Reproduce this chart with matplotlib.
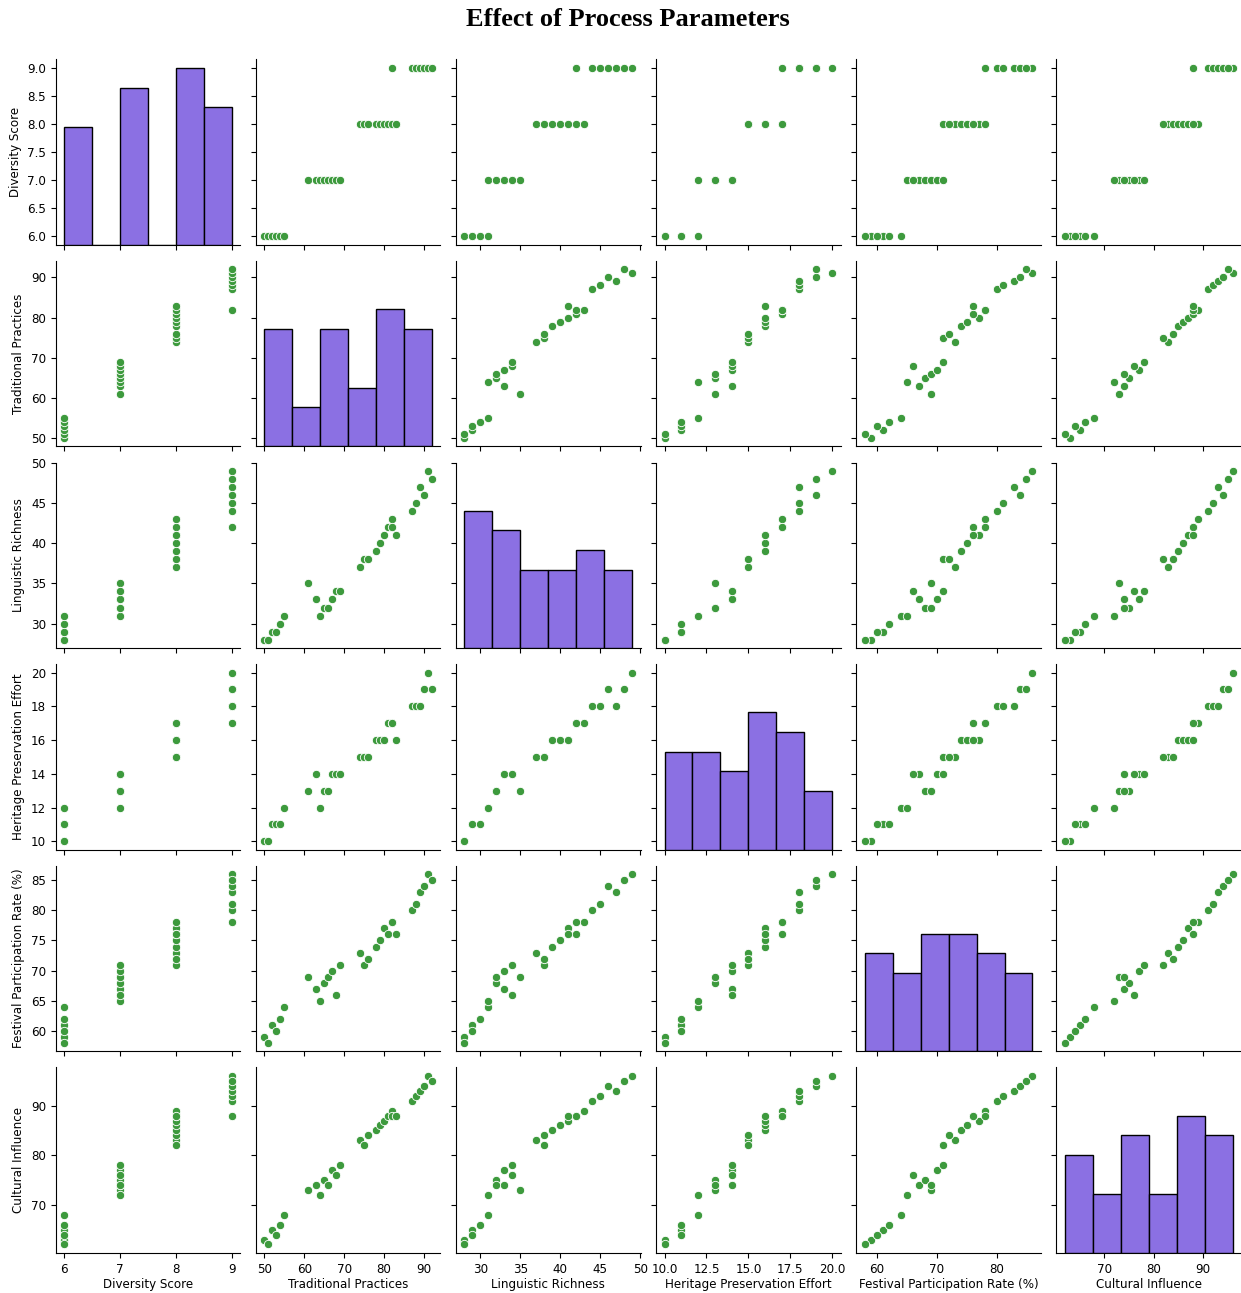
import matplotlib
matplotlib.use("Agg")
import matplotlib.pyplot as plt
from matplotlib.ticker import MultipleLocator, FormatStrFormatter
import seaborn as sns
import pandas as pd

diversity_score = [6, 6, 6, 6, 6, 6, 7, 7, 7, 7, 7, 7, 7, 7, 8, 8, 8, 8, 8, 8, 8, 8, 9, 8, 9, 9, 9, 9, 9, 9]
traditional_practices = [50, 51, 52, 53, 54, 55, 61, 63, 64, 65, 66, 67, 68, 69, 74, 75, 76, 78, 79, 80, 81, 82, 82, 83, 87, 88, 89, 90, 91, 92]
linguistic_richness = [28, 28, 29, 29, 30, 31, 35, 33, 31, 32, 32, 33, 34, 34, 37, 38, 38, 39, 40, 41, 42, 43, 42, 41, 44, 45, 47, 46, 49, 48]
heritage_effort = [10, 10, 11, 11, 11, 12, 13, 14, 12, 13, 13, 14, 14, 14, 15, 15, 15, 16, 16, 16, 17, 17, 17, 16, 18, 18, 18, 19, 20, 19]
festival_rate = [59, 58, 61, 60, 62, 64, 69, 67, 65, 68, 69, 70, 66, 71, 73, 71, 72, 74, 75, 77, 76, 78, 78, 76, 80, 81, 83, 84, 86, 85]
cultural_influence = [63, 62, 65, 64, 66, 68, 73, 74, 72, 75, 74, 77, 76, 78, 83, 82, 84, 85, 86, 87, 88, 89, 88, 88, 91, 92, 93, 94, 96, 95]

columns = ["Diversity Score", "Traditional Practices", "Linguistic Richness",
           "Heritage Preservation Effort", "Festival Participation Rate (%)",
           "Cultural Influence"]

df = pd.DataFrame({
    columns[0]: diversity_score,
    columns[1]: traditional_practices,
    columns[2]: linguistic_richness,
    columns[3]: heritage_effort,
    columns[4]: festival_rate,
    columns[5]: cultural_influence,
})

plt.rcParams["font.size"] = 8.6
plt.rcParams["axes.labelsize"] = 8.6
plt.rcParams["xtick.labelsize"] = 8.6
plt.rcParams["ytick.labelsize"] = 8.6

g = sns.pairplot(
    df,
    diag_kind="hist",
    plot_kws=dict(color="#3d9a3d", s=36, edgecolor="white", linewidth=0.6),
    diag_kws=dict(color="#8b70e3", edgecolor="black", alpha=1.0, linewidth=1.0),
)

fig = g.figure
fig.set_size_inches(12.41, 12.93)
fig.subplots_adjust(left=0.0449, right=1.0, top=0.9541, bottom=0.031,
                    wspace=0.084, hspace=0.087)

for ax in g.axes[0, :]:
    ax.yaxis.set_major_locator(MultipleLocator(0.5))
    ax.yaxis.set_major_formatter(FormatStrFormatter("%.1f"))

for ax in g.axes[-1, :]:
    ax.xaxis.labelpad = 2

fig.suptitle("Effect of Process Parameters", x=0.506, y=0.994,
             fontsize=19, fontweight="bold", family="Liberation Serif")

fig.savefig("out.png", dpi=100)
